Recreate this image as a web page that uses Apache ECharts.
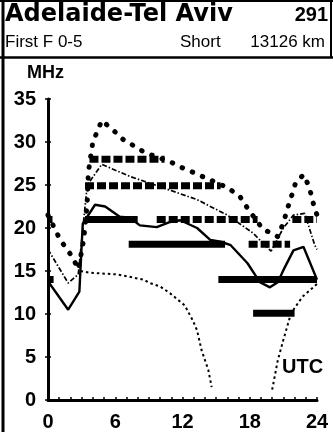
<!DOCTYPE html>
<html>
<head>
<meta charset="utf-8">
<script src="https://cdn.jsdelivr.net/npm/echarts@6/dist/echarts.min.js"></script>
<style>
  html, body { margin: 0; padding: 0; background: #fff; }
  #chart { width: 333px; height: 432px; }
</style>
</head>
<body>
<div id="chart"></div>
<script>
// Hours (UTC) on x, frequency (MHz) on y
const hourLabels = [0, 6, 12, 18, 24];
const mhzLabels = [0, 5, 10, 15, 20, 25, 30, 35];

// Upper-decile MUF (large dots)
const mufUpper = [
  [0, 21.5], [1.1, 18.6], [2.2, 16.6], [2.7, 15.2], [3.1, 18], [3.3, 20], [3.5, 23], [3.6, 26.5],
  [4.0, 30], [4.8, 32.5], [5.8, 31.4], [6.7, 30.3], [7.6, 29.6], [8.6, 28.8], [10.9, 27.7],
  [11.8, 27.1], [12.9, 26.5], [16, 24.7], [17.1, 23.7], [17.9, 22.1], [18.7, 20.7], [19.2, 19.8],
  [20, 19.4], [20.5, 19], [21, 20.6], [21.4, 22.4], [21.8, 24], [22.1, 25.3], [22.8, 26.2],
  [23.3, 24.8], [23.7, 22.7], [24, 21.5]
];

// Median MUF (thin dash-dot)
const mufMedian = [
  [0, 17.5], [1.8, 13.6], [2.7, 14.6], [3.5, 25], [4.8, 27.4], [7.3, 26], [10, 24.8],
  [13.3, 23.3], [16, 21.5], [18.3, 19.4], [19.9, 17.3], [21, 20], [21.9, 21.5], [22.9, 21.7],
  [23.8, 18], [24, 17.5]
];

// Signal curve (thin solid)
const signal = [
  [0, 13.8], [1.8, 10.5], [2.8, 12.6], [3.1, 20.5], [4.2, 22.7], [5.1, 22.5], [6.4, 21.3],
  [7.3, 21.2], [8.2, 20.3], [9.7, 20.1], [10.9, 20.7], [11.8, 20.9], [13.3, 20], [14.5, 18.6],
  [15.4, 18.4], [16.3, 18], [17.8, 15.9], [18.9, 13.7], [19.8, 13.1], [20.5, 13.7], [21, 15.1],
  [21.9, 17.4], [22.8, 17.8], [24, 14]
];

// Lowest usable frequency (fine dots), day and evening parts
const lufDay = [
  [2.9, 15], [3.75, 14.8], [6.2, 14.6], [7, 14.4], [8.5, 14], [9.1, 13.6], [10, 13.2],
  [10.9, 12.4], [12.2, 11], [12.9, 9.3], [13.3, 8.1], [13.7, 5.8], [14.3, 3.5], [14.6, 1.5]
];
const lufEvening = [
  [20, 1.2], [20.5, 4.6], [21, 7], [21.6, 9.7], [21.9, 10.5], [22.7, 12], [23.4, 12.8], [24, 13.5]
];

// Band openings: [start hour, end hour, band MHz]
const bandsFair = [
  [0, 0.4, 21], [3.7, 10.4, 28], [3.3, 15.4, 24.9], [9.7, 18.7, 21], [17.9, 21.6, 18.1], [21.8, 24, 21]
];
const bandsGood = [
  [0, 0.5, 14], [3.3, 8, 21], [7.2, 15.8, 18.1], [15.2, 24, 14], [18.3, 22, 10.1]
];

const INK = '#000';
const tickFont = { fontFamily: 'Liberation Sans', fontWeight: 'bold', fontSize: 20, color: INK };

function curve(data, lineStyle, z) {
  return { type: 'line', data, symbol: 'none', smooth: false, z, silent: true, lineStyle: Object.assign({ color: INK }, lineStyle) };
}

const series = [];
bandsFair.forEach(([s, e, f]) => {
  series.push(curve([[s, f], [e, f]], { width: 7, type: [9, 3] }, 3));
});
bandsGood.forEach(([s, e, f]) => {
  series.push(curve([[s, f], [e, f]], { width: 7, cap: 'butt' }, 3));
});
series.push(curve(mufUpper, { width: 5, type: [0.5, 10.5], cap: 'round' }, 4));
series.push(curve(mufMedian, { width: 1.7, type: [5, 2, 1.5, 2] }, 4));
series.push(curve(signal, { width: 2.4 }, 4));
series.push(curve(lufDay, { width: 2, type: [2.5, 3] }, 4));
series.push(curve(lufEvening, { width: 2, type: [2.5, 3] }, 4));

const xBase = { type: 'value', min: 0, max: 24, interval: 1, gridIndex: 0, splitLine: { show: false } };
const yBase = { type: 'value', min: 0, max: 35, interval: 5, gridIndex: 0, splitLine: { show: false } };

const option = {
  animation: false,
  backgroundColor: '#fff',
  grid: { left: 48, right: 16, top: 99, bottom: 31, containLabel: false },
  xAxis: [
    Object.assign({}, xBase, {
      axisLine: { lineStyle: { color: INK, width: 3 } },
      axisTick: { inside: true, length: 3, lineStyle: { color: INK, width: 1.5 } },
      axisLabel: Object.assign({ margin: 12, formatter: v => (hourLabels.includes(v) ? String(v) : '') }, tickFont)
    }),
    Object.assign({}, xBase, {
      axisLine: { show: false },
      axisTick: { inside: false, length: 3, lineStyle: { color: INK, width: 1.5 } },
      axisLabel: { show: false }
    })
  ],
  yAxis: [
    Object.assign({}, yBase, {
      axisLine: { show: true, lineStyle: { color: INK, width: 3 } },
      axisTick: { inside: true, length: 3, lineStyle: { color: INK, width: 1.5 } },
      axisLabel: Object.assign({ margin: 12, formatter: v => (mhzLabels.includes(v) ? String(v) : '') }, tickFont)
    }),
    Object.assign({}, yBase, {
      position: 'left',
      axisLine: { show: false },
      axisTick: { show: true, inside: false, length: 3, lineStyle: { color: INK, width: 1.5 } },
      axisLabel: { show: false }
    })
  ],
  series,
  graphic: [
    // outer frame and header box
    { type: 'line', shape: { x1: 0, y1: 1, x2: 333, y2: 1 }, style: { stroke: INK, lineWidth: 2 } },
    { type: 'line', shape: { x1: 3, y1: 0, x2: 3, y2: 432 }, style: { stroke: INK, lineWidth: 3 } },
    { type: 'line', shape: { x1: 331, y1: 0, x2: 331, y2: 58 }, style: { stroke: INK, lineWidth: 2 } },
    { type: 'line', shape: { x1: 0, y1: 57.5, x2: 333, y2: 57.5 }, style: { stroke: INK, lineWidth: 2.5 } },
    { type: 'text', left: 5, top: 3, style: { text: 'Adelaide-Tel Aviv', fontFamily: 'DejaVu Sans', fontWeight: 'bold', fontSize: 24, fill: INK } },
    { type: 'text', right: 5, top: 5, style: { text: '291', fontFamily: 'Liberation Sans', fontWeight: 'bold', fontSize: 20, fill: INK } },
    { type: 'text', left: 5, top: 34, style: { text: 'First F 0-5', fontFamily: 'Liberation Sans', fontSize: 17, fill: INK } },
    { type: 'text', left: 180, top: 34, style: { text: 'Short', fontFamily: 'Liberation Sans', fontSize: 17, fill: INK } },
    { type: 'text', right: 8, top: 34, style: { text: '13126 km', fontFamily: 'Liberation Sans', fontSize: 17, fill: INK } },
    { type: 'text', left: 27, top: 64, style: { text: 'MHz', fontFamily: 'Liberation Sans', fontWeight: 'bold', fontSize: 18, fill: INK } },
    { type: 'text', left: 282, top: 357, style: { text: 'UTC', fontFamily: 'Liberation Sans', fontWeight: 'bold', fontSize: 20, fill: INK } }
  ]
};

const chart = echarts.init(document.getElementById('chart'), null, { renderer: 'canvas' });
chart.setOption(option);
</script>
</body>
</html>
